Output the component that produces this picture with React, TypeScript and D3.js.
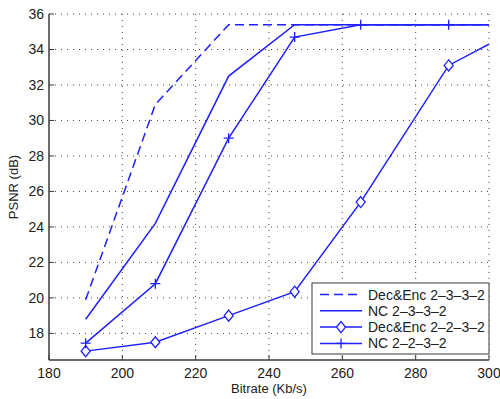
import * as d3 from 'd3';

const bitrates = [190, 209, 229, 247, 265, 289, 310];
const decEnc2332 = [19.9, 30.9, 35.4, 35.4, 35.4, 35.4, 35.4];
const nc2332 = [18.8, 24.2, 32.5, 35.4, 35.4, 35.4, 35.4];
const decEnc2232 = [17.0, 17.5, 19.0, 20.35, 25.4, 33.1, 35.4];
const nc2232 = [17.45, 20.8, 29.0, 34.7, 35.4, 35.4, 35.4];
// the last point lies past the axis limit and gets clipped, marker hidden
const markerCount = 6;

const xTicks = [180, 200, 220, 240, 260, 280, 300];
const yTicks = [18, 20, 22, 24, 26, 28, 30, 32, 34, 36];

const legendLabels = ['Dec&Enc 2\u20133\u20133\u20132', 'NC 2\u20133\u20133\u20132', 'Dec&Enc 2\u20132\u20133\u20132', 'NC 2\u20132\u20133\u20132'];

const BLUE = '#1f1fff';
const AXIS = '#3a3a3a';
const FONT = 'Liberation Sans, Arial, Helvetica, sans-serif';

type Marker = 'none' | 'diamond' | 'plus';

const seriesList: { label: string; values: number[]; dashed: boolean; marker: Marker }[] = [
  { label: legendLabels[0], values: decEnc2332, dashed: true, marker: 'none' },
  { label: legendLabels[1], values: nc2332, dashed: false, marker: 'none' },
  { label: legendLabels[2], values: decEnc2232, dashed: false, marker: 'diamond' },
  { label: legendLabels[3], values: nc2232, dashed: false, marker: 'plus' },
];

function MarkerShape({ type, x, y }: { type: Marker; x: number; y: number }) {
  if (type === 'diamond') {
    return (
      <path
        d={`M${x},${y - 5.5}L${x + 4.5},${y}L${x},${y + 5.5}L${x - 4.5},${y}Z`}
        fill='white'
        stroke={BLUE}
        strokeWidth={1.3}
      />
    );
  }
  if (type === 'plus') {
    return (
      <path
        d={`M${x - 5},${y}H${x + 5}M${x},${y - 5}V${y + 5}`}
        stroke={BLUE}
        strokeWidth={1.3}
      />
    );
  }
  return null;
}

export default function App() {
  const width = 500;
  const height = 399;
  const margin = { top: 14, right: 11, bottom: 39, left: 49 };
  const innerW = width - margin.left - margin.right;
  const innerH = height - margin.top - margin.bottom;

  const x = d3.scaleLinear().domain([180, 300]).range([0, innerW]);
  const y = d3.scaleLinear().domain([16.5, 36]).range([innerH, 0]);

  const line = d3
    .line<number>()
    .x((_, i) => x(bitrates[i]))
    .y((d) => y(d));

  const legend = { x: 263, y: 269, w: 177, h: 71, row: 16.3 };

  return (
    <svg
      width={width}
      height={height}
      style={{ position: 'absolute', left: 0, top: 0, background: 'white' }}
      fontFamily={FONT}
    >
      <defs>
        <clipPath id='plot-clip'>
          <rect x={0} y={0} width={innerW} height={innerH} />
        </clipPath>
      </defs>
      <g transform={`translate(${margin.left},${margin.top})`}>
        {/* dotted grid */}
        {xTicks.slice(1).map((t) => (
          <line
            key={'gx' + t}
            x1={x(t)}
            x2={x(t)}
            y1={0}
            y2={innerH}
            stroke='#444'
            strokeWidth={1}
            strokeDasharray='1 5'
          />
        ))}
        {yTicks.map((t) => (
          <line
            key={'gy' + t}
            x1={0}
            x2={innerW}
            y1={y(t)}
            y2={y(t)}
            stroke='#444'
            strokeWidth={1}
            strokeDasharray='1 5'
          />
        ))}

        {/* series */}
        <g clipPath='url(#plot-clip)'>
          {seriesList.map((s) => (
            <path
              key={s.label}
              d={line(s.values) ?? ''}
              fill='none'
              stroke={BLUE}
              strokeWidth={1.5}
              strokeDasharray={s.dashed ? '9 5' : undefined}
            />
          ))}
        </g>
        {seriesList.map((s) =>
          s.values
            .slice(0, markerCount)
            .map((v, i) => (
              <MarkerShape key={s.label + i} type={s.marker} x={x(bitrates[i])} y={y(v)} />
            ))
        )}

        {/* axes */}
        <line x1={0} x2={0} y1={0} y2={innerH} stroke={AXIS} strokeWidth={1.5} />
        <line x1={0} x2={innerW} y1={innerH} y2={innerH} stroke={AXIS} strokeWidth={1.5} />
        {xTicks.map((t) => (
          <g key={'tx' + t}>
            <line x1={x(t)} x2={x(t)} y1={innerH} y2={innerH - 5} stroke={AXIS} strokeWidth={1} />
            <text x={x(t)} y={innerH + 18} textAnchor='middle' fontSize={14} fill='#222'>
              {t}
            </text>
          </g>
        ))}
        {yTicks.map((t) => (
          <g key={'ty' + t}>
            <line x1={0} x2={5} y1={y(t)} y2={y(t)} stroke={AXIS} strokeWidth={1} />
            <text x={-5} y={y(t)} dy='0.35em' textAnchor='end' fontSize={14} fill='#222'>
              {t}
            </text>
          </g>
        ))}

        {/* axis labels */}
        <text x={innerW / 2} y={innerH + 33} textAnchor='middle' fontSize={13} fill='#222'>
          Bitrate (Kb/s)
        </text>
        <text
          transform={`translate(-31,${innerH / 2}) rotate(-90)`}
          textAnchor='middle'
          fontSize={13}
          fill='#222'
        >
          PSNR (dB)
        </text>

        {/* legend */}
        <g transform={`translate(${legend.x},${legend.y})`}>
          <rect width={legend.w} height={legend.h} fill='white' stroke={AXIS} strokeWidth={1} />
          {seriesList.map((s, i) => {
            const ry = 11.5 + i * legend.row;
            return (
              <g key={'lg' + s.label}>
                <line
                  x1={8}
                  x2={50}
                  y1={ry}
                  y2={ry}
                  stroke={BLUE}
                  strokeWidth={1.5}
                  strokeDasharray={s.dashed ? '9 5' : undefined}
                />
                <MarkerShape type={s.marker} x={29} y={ry} />
                <text x={56} y={ry} dy='0.36em' fontSize={14} fill='#222'>
                  {s.label}
                </text>
              </g>
            );
          })}
        </g>
      </g>
    </svg>
  );
}
